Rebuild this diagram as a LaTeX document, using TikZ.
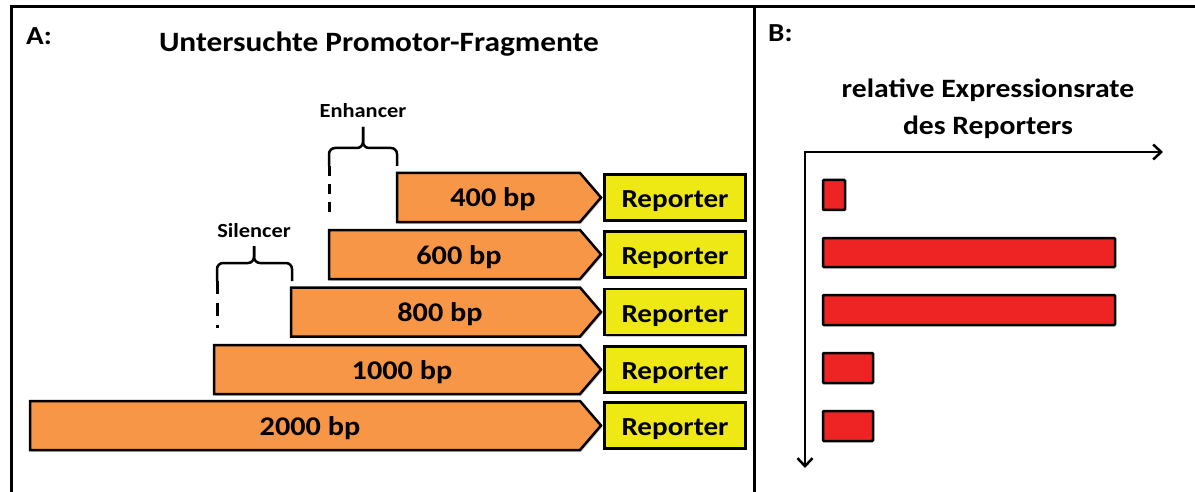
\documentclass[tikz,border=0pt]{standalone}
\usepackage{fontspec}
\setmainfont{Carlito}[FakeStretch=1.12]
\usetikzlibrary{arrows.meta,shadows}
\definecolor{arroworange}{HTML}{F79646}
\definecolor{repyellow}{HTML}{EEE814}
\definecolor{barred}{HTML}{EE2424}
\begin{document}
\begin{tikzpicture}[x=1pt,y=-1pt,
  frameline/.style={line width=3pt},
  shade/.style={drop shadow={shadow xshift=1.5pt,shadow yshift=-1.5pt,opacity=0.4}},
  promoter/.style={draw,line width=2.5pt,fill=arroworange,line join=miter,shade},
  reporter/.style={draw,fill=repyellow,line width=2.5pt,minimum width=141pt,minimum height=46pt,
    inner sep=0pt,text height=22pt,text depth=2pt,font=\bfseries\fontsize{26}{30}\selectfont,shade},
  bplabel/.style={inner sep=0pt,text height=21pt,text depth=2pt,font=\bfseries\fontsize{27}{30}\selectfont},
  bigtitle/.style={inner sep=0pt,font=\bfseries\fontsize{28}{34}\selectfont},
  paneltag/.style={inner sep=0pt,font=\bfseries\fontsize{26}{30}\selectfont},
  smalltitle/.style={inner sep=0pt,font=\bfseries\fontsize{20}{24}\selectfont},
  bracket/.style={line width=2.5pt,rounded corners=6pt},
  dashline/.style={line width=3pt,dash pattern=on 10pt off 8pt},
  axisline/.style={line width=2.5pt,-{Straight Barb[length=8pt,width=15pt,line width=2.5pt]}},
  bar/.style={draw,fill=barred,line width=2.5pt,rounded corners=1pt}
]
\useasboundingbox (0,0) rectangle (1195,492);
\fill[white] (0,0) rectangle (1195,492);
% frame
\draw[frameline] (11,492) -- (11,6.5) -- (1196,6.5);
\draw[frameline] (754,6.5) -- (754,492);

% panel A
\node[paneltag,anchor=base west] (tagA) at (26,45) {A:};
\node[bigtitle,anchor=base] (titleA) at (379,52) {Untersuchte Promotor-Fragmente};

% promoter arrows
\path[promoter] (397,173) -- (580,173) -- (601,197.5) -- (580,222) -- (397,222) -- cycle;
\path[promoter] (329,230) -- (580,230) -- (601,254.5) -- (580,279) -- (329,279) -- cycle;
\path[promoter] (291,287.5) -- (580,287.5) -- (601,312) -- (580,336.5) -- (291,336.5) -- cycle;
\path[promoter] (214,345) -- (580,345) -- (601,369.5) -- (580,394) -- (214,394) -- cycle;
\path[promoter] (30,401) -- (580,401) -- (601,425.5) -- (580,450) -- (30,450) -- cycle;

\node[bplabel] (p400) at (493,197.5) {400 bp};
\node[bplabel] (p600) at (459,254.5) {600 bp};
\node[bplabel] (p800) at (440,312) {800 bp};
\node[bplabel] (p1000) at (402,369.5) {1000 bp};
\node[bplabel] (p2000) at (310,425.5) {2000 bp};

% reporters
\node[reporter] (r400) at (675,197.5) {Reporter};
\node[reporter] (r600) at (675,254.5) {Reporter};
\node[reporter] (r800) at (675,312) {Reporter};
\node[reporter] (r1000) at (675,369.5) {Reporter};
\node[reporter] (r2000) at (675,425.5) {Reporter};

% enhancer
\node[smalltitle,anchor=base] (enh) at (363,118) {Enhancer};
\draw[bracket] (329,166) -- (329,148) -- (363,148) -- (363,127);
\draw[bracket] (397,166) -- (397,148) -- (363,148) -- (363,127);
\draw[dashline] (329,166) -- (329,213);

% silencer
\node[smalltitle,anchor=base] (sil) at (254,237) {Silencer};
\draw[bracket] (217,281) -- (217,263) -- (254,263) -- (254,246);
\draw[bracket] (292,281) -- (292,263) -- (254,263) -- (254,246);
\draw[dashline,dash pattern=on 13pt off 9pt] (217,281) -- (217,328);

% panel B
\node[paneltag,anchor=base west] (tagB) at (768,42) {B:};
\node[paneltag,align=center,anchor=base,font=\bfseries\fontsize{26.5}{37}\selectfont] (ylab) at (988,135) {relative Expressionsrate\\des Reporters};
\coordinate (origin) at (805,152);
\coordinate (xend) at (1163,152);
\coordinate (yend) at (805,468);
\draw[axisline] ([xshift=-1.2pt]origin) -- (xend);
\draw[axisline] (origin) -- (yend);

\draw[bar] (823,180) rectangle (845,210);
\draw[bar] (823,238) rectangle (1115,267);
\draw[bar] (823,295) rectangle (1115,325);
\draw[bar] (823,353) rectangle (873,383);
\draw[bar] (823,411) rectangle (873,441);
\end{tikzpicture}
\end{document}
